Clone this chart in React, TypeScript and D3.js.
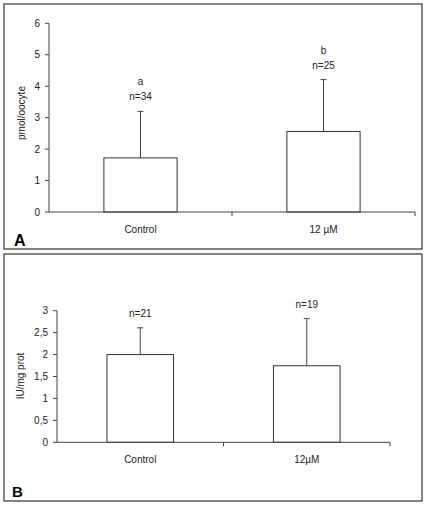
import React from "react";
import * as d3 from "d3";

// Panel A
const categoriesA = ["Control", "12 µM"];
const meansA = [1.72, 2.56];
const errTopA = [3.2, 4.21];
const lettersA = ["a", "b"];
const nLabelsA = ["n=34", "n=25"];
const ticksA = [0, 1, 2, 3, 4, 5, 6];
const tickLabelsA = ["0", "1", "2", "3", "4", "5", "6"];

// Panel B
const categoriesB = ["Control", "12µM"];
const meansB = [2.0, 1.745];
const errTopB = [2.61, 2.82];
const nLabelsB = ["n=21", "n=19"];
const ticksB = [0, 0.5, 1, 1.5, 2, 2.5, 3];
const tickLabelsB = ["0", "0,5", "1", "1,5", "2", "2,5", "3"];

const FONT = "'Liberation Sans', Arial, sans-serif";
const AX = "#444";

type PanelProps = {
  frame: [number, number, number, number];
  x0: number; x1: number; yBottom: number; yTop: number; yMax: number;
  cats: string[]; means: number[]; errs: number[];
  letters?: string[]; nLabels: string[];
  ticks: number[]; tickLabels: string[];
  yLabel: string; yLabelX: number; yLabelY: number;
  panel: string; panelX: number; panelY: number; panelSize: number;
  nGap: number; letterGap: number;
};

function Panel(p: PanelProps) {
  const y = d3.scaleLinear().domain([0, p.yMax]).range([p.yBottom, p.yTop]);
  const x = d3.scaleBand<string>().domain(p.cats).range([p.x0, p.x1]).padding(0);
  const bw = x.bandwidth() * 0.4;
  const [fx, fy, fw, fh] = p.frame;
  return (
    <g>
      <rect x={fx} y={fy} width={fw} height={fh} fill="#fff" stroke="#333" strokeWidth={1.2} />
      {/* y axis */}
      <line x1={p.x0} x2={p.x0} y1={y(0)} y2={y(p.yMax)} stroke={AX} strokeWidth={1} />
      {p.ticks.map((t, i) => (
        <g key={i}>
          <line x1={p.x0 - 4} x2={p.x0} y1={y(t)} y2={y(t)} stroke={AX} />
          <text x={p.x0 - 9} y={y(t)} dy="0.35em" textAnchor="end" fontSize={10} fontFamily={FONT} fill="#222">
            {p.tickLabels[i]}
          </text>
        </g>
      ))}
      {/* bars */}
      {p.cats.map((c, i) => {
        const cx = (x(c) as number) + x.bandwidth() / 2;
        return (
          <g key={c}>
            <line x1={cx} x2={cx} y1={y(p.means[i])} y2={y(p.errs[i])} stroke={AX} strokeWidth={1} />
            <line x1={cx - 3} x2={cx + 3} y1={y(p.errs[i])} y2={y(p.errs[i])} stroke={AX} strokeWidth={1} />
            <rect x={cx - bw / 2} y={y(p.means[i])} width={bw} height={y(0) - y(p.means[i])} fill="#fff" stroke="#333" strokeWidth={1} />
            <text x={cx} y={y(p.errs[i]) - p.nGap} textAnchor="middle" fontSize={10} fontFamily={FONT} fill="#222">
              {p.nLabels[i]}
            </text>
            {p.letters && (
              <text x={cx} y={y(p.errs[i]) - p.nGap - p.letterGap} textAnchor="middle" fontSize={10} fontFamily={FONT} fill="#222">
                {p.letters[i]}
              </text>
            )}
            <text x={cx} y={y(0) + 21} textAnchor="middle" fontSize={10} fontFamily={FONT} fill="#222">
              {c}
            </text>
          </g>
        );
      })}
      {/* x axis */}
      <line x1={p.x0} x2={p.x1} y1={y(0)} y2={y(0)} stroke={AX} strokeWidth={1} />
      {p.cats.map((c, i) => (
        <line key={i} x1={(x(c) as number) + x.bandwidth()} x2={(x(c) as number) + x.bandwidth()} y1={y(0)} y2={y(0) + 4} stroke={AX} />
      ))}
      <text transform={`translate(${p.yLabelX},${p.yLabelY}) rotate(-90)`} textAnchor="middle" fontSize={10} fontFamily={FONT} fill="#222">
        {p.yLabel}
      </text>
      <text x={p.panelX} y={p.panelY} fontSize={p.panelSize} fontWeight="bold" fontFamily={FONT} fill="#000">
        {p.panel}
      </text>
    </g>
  );
}

export default function App() {
  return (
    <svg width={426} height={505} style={{ position: "absolute", left: 0, top: 0, background: "#fff" }}>
      <Panel
        frame={[4, 4, 418, 245]}
        x0={49} x1={415} yBottom={212} yTop={23.3} yMax={6}
        cats={categoriesA} means={meansA} errs={errTopA}
        letters={lettersA} nLabels={nLabelsA}
        ticks={ticksA} tickLabels={tickLabelsA}
        yLabel="pmol/oocyte" yLabelX={25} yLabelY={113}
        panel="A" panelX={14} panelY={246} panelSize={16}
        nGap={11} letterGap={15}
      />
      <Panel
        frame={[4, 254, 418, 247]}
        x0={57} x1={390} yBottom={442.3} yTop={310.7} yMax={3}
        cats={categoriesB} means={meansB} errs={errTopB}
        nLabels={nLabelsB}
        ticks={ticksB} tickLabels={tickLabelsB}
        yLabel="IU/mg prot" yLabelX={24} yLabelY={376}
        panel="B" panelX={12} panelY={497} panelSize={15}
        nGap={10.5} letterGap={15}
      />
    </svg>
  );
}
